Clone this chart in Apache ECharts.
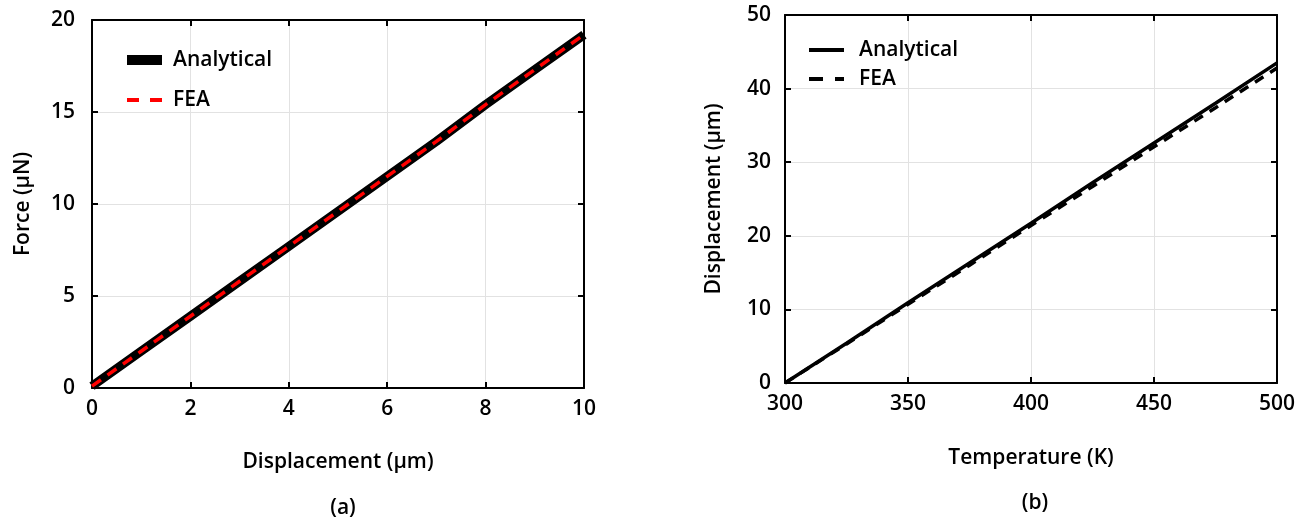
<!DOCTYPE html>
<html><head><meta charset="utf-8">
<script src="https://cdn.jsdelivr.net/npm/echarts@6/dist/echarts.min.js"></script>
<style>html,body{margin:0;padding:0;background:#fff}#c{width:1309px;height:519px}</style>
</head><body><div id="c"></div>
<script>
// Chart (a): Force vs Displacement
const dispA = [0, 1, 2, 3, 4, 5, 6, 7, 8, 9, 10];
const forceAnalytical = [0.1, 2.0, 3.9, 5.8, 7.7, 9.6, 11.5, 13.4, 15.4, 17.3, 19.2];
const forceFEA = [0.1, 2.0, 3.9, 5.8, 7.7, 9.6, 11.5, 13.4, 15.4, 17.3, 19.2];
// Chart (b): Displacement vs Temperature
const tempB = [300, 325, 350, 375, 400, 425, 450, 475, 500];
const dispAnalytical = [0, 5.4, 10.9, 16.3, 21.7, 27.2, 32.6, 38.0, 43.5];
const dispFEA = [0, 5.3, 10.7, 16.0, 21.4, 26.7, 32.1, 37.4, 42.8];

const FONT = "'Open Sans', sans-serif";
const chart = echarts.init(document.getElementById('c'));
const lab = {fontFamily: FONT, fontSize: 21, fontWeight: 600, color: '#000'};
const axisLineStyle = {onZero: false, lineStyle: {color: '#000', width: 2}};
const tickStyle = {inside: true, length: 6, lineStyle: {color: '#000', width: 2}};
const gridLine = {show: true, lineStyle: {color: '#e2e2e2', width: 1}};
function mainAxis(grid, min, max, interval, name, gap, margin) {
  return {type: 'value', gridIndex: grid, min, max, interval, name, nameLocation: 'middle', nameGap: gap,
    nameTextStyle: lab, axisLabel: Object.assign({margin}, lab),
    axisLine: axisLineStyle, axisTick: tickStyle, splitLine: gridLine};
}
function mirror(grid, min, max, interval, pos) {
  return {type: 'value', gridIndex: grid, min, max, interval, position: pos,
    axisLabel: {show: false}, splitLine: {show: false},
    axisLine: axisLineStyle, axisTick: tickStyle};
}
const nameFmt = n => n.split('_')[0];
function leg(name, icon, color, left, centerY, w, h, pad) {
  return {data: [{name, icon, itemStyle: {color, borderWidth: 0}}], left, top: centerY - 12,
    itemWidth: w, itemHeight: h, formatter: nameFmt, selectedMode: false,
    textStyle: Object.assign({padding: [0, 0, 0, pad], lineHeight: 24}, lab)};
}
chart.setOption({
  animation: false,
  backgroundColor: '#fff',
  title: [
    {text: '(a)', left: 338, top: 493, textAlign: 'center', textStyle: lab},
    {text: '(b)', left: 1030, top: 488, textAlign: 'center', textStyle: lab}
  ],
  grid: [
    {left: 92, top: 20, width: 492, height: 368},
    {left: 785, top: 15, width: 492, height: 368}
  ],
  legend: [
    leg('Analytical_a', 'rect', '#000', 122, 55, 35, 10, 6),
    leg('FEA_a', 'path://M0,0h12v4h-12z M23,0h12v4h-12z', '#ff0000', 122, 95, 35, 4, 6),
    leg('Analytical_b', 'rect', '#000', 804, 45, 35, 4, 10),
    leg('FEA_b', 'path://M0,0h14v4h-14z M26,0h9v4h-9z', '#000', 804, 74, 35, 4, 10)
  ],
  xAxis: [
    mainAxis(0, 0, 10, 2, 'Displacement (μm)', 64, 11),
    mainAxis(1, 300, 500, 50, 'Temperature (K)', 65, 11),
    mirror(0, 0, 10, 2, 'top'),
    mirror(1, 300, 500, 50, 'top')
  ],
  yAxis: [
    mainAxis(0, 0, 20, 5, 'Force (μN)', 58, 17),
    mainAxis(1, 0, 50, 10, 'Displacement (μm)', 60, 14),
    mirror(0, 0, 20, 5, 'right'),
    mirror(1, 0, 50, 10, 'right')
  ],
  series: [
    {name: 'Analytical_a', type: 'line', xAxisIndex: 0, yAxisIndex: 0, symbol: 'none',
     data: dispA.map((x, i) => [x, forceAnalytical[i]]), lineStyle: {color: '#000', width: 9}, itemStyle: {color: '#000'}},
    {name: 'FEA_a', type: 'line', xAxisIndex: 0, yAxisIndex: 0, symbol: 'none',
     data: dispA.map((x, i) => [x, forceFEA[i]]), lineStyle: {color: '#ff0000', width: 3.5, type: [11, 8]}, itemStyle: {color: '#ff0000'}},
    {name: 'Analytical_b', type: 'line', xAxisIndex: 1, yAxisIndex: 1, symbol: 'none',
     data: tempB.map((x, i) => [x, dispAnalytical[i]]), lineStyle: {color: '#000', width: 3.5}, itemStyle: {color: '#000'}},
    {name: 'FEA_b', type: 'line', xAxisIndex: 1, yAxisIndex: 1, symbol: 'none',
     data: tempB.map((x, i) => [x, dispFEA[i]]), lineStyle: {color: '#000', width: 3.5, type: [10, 8]}, itemStyle: {color: '#000'}}
  ]
});
</script></body></html>
